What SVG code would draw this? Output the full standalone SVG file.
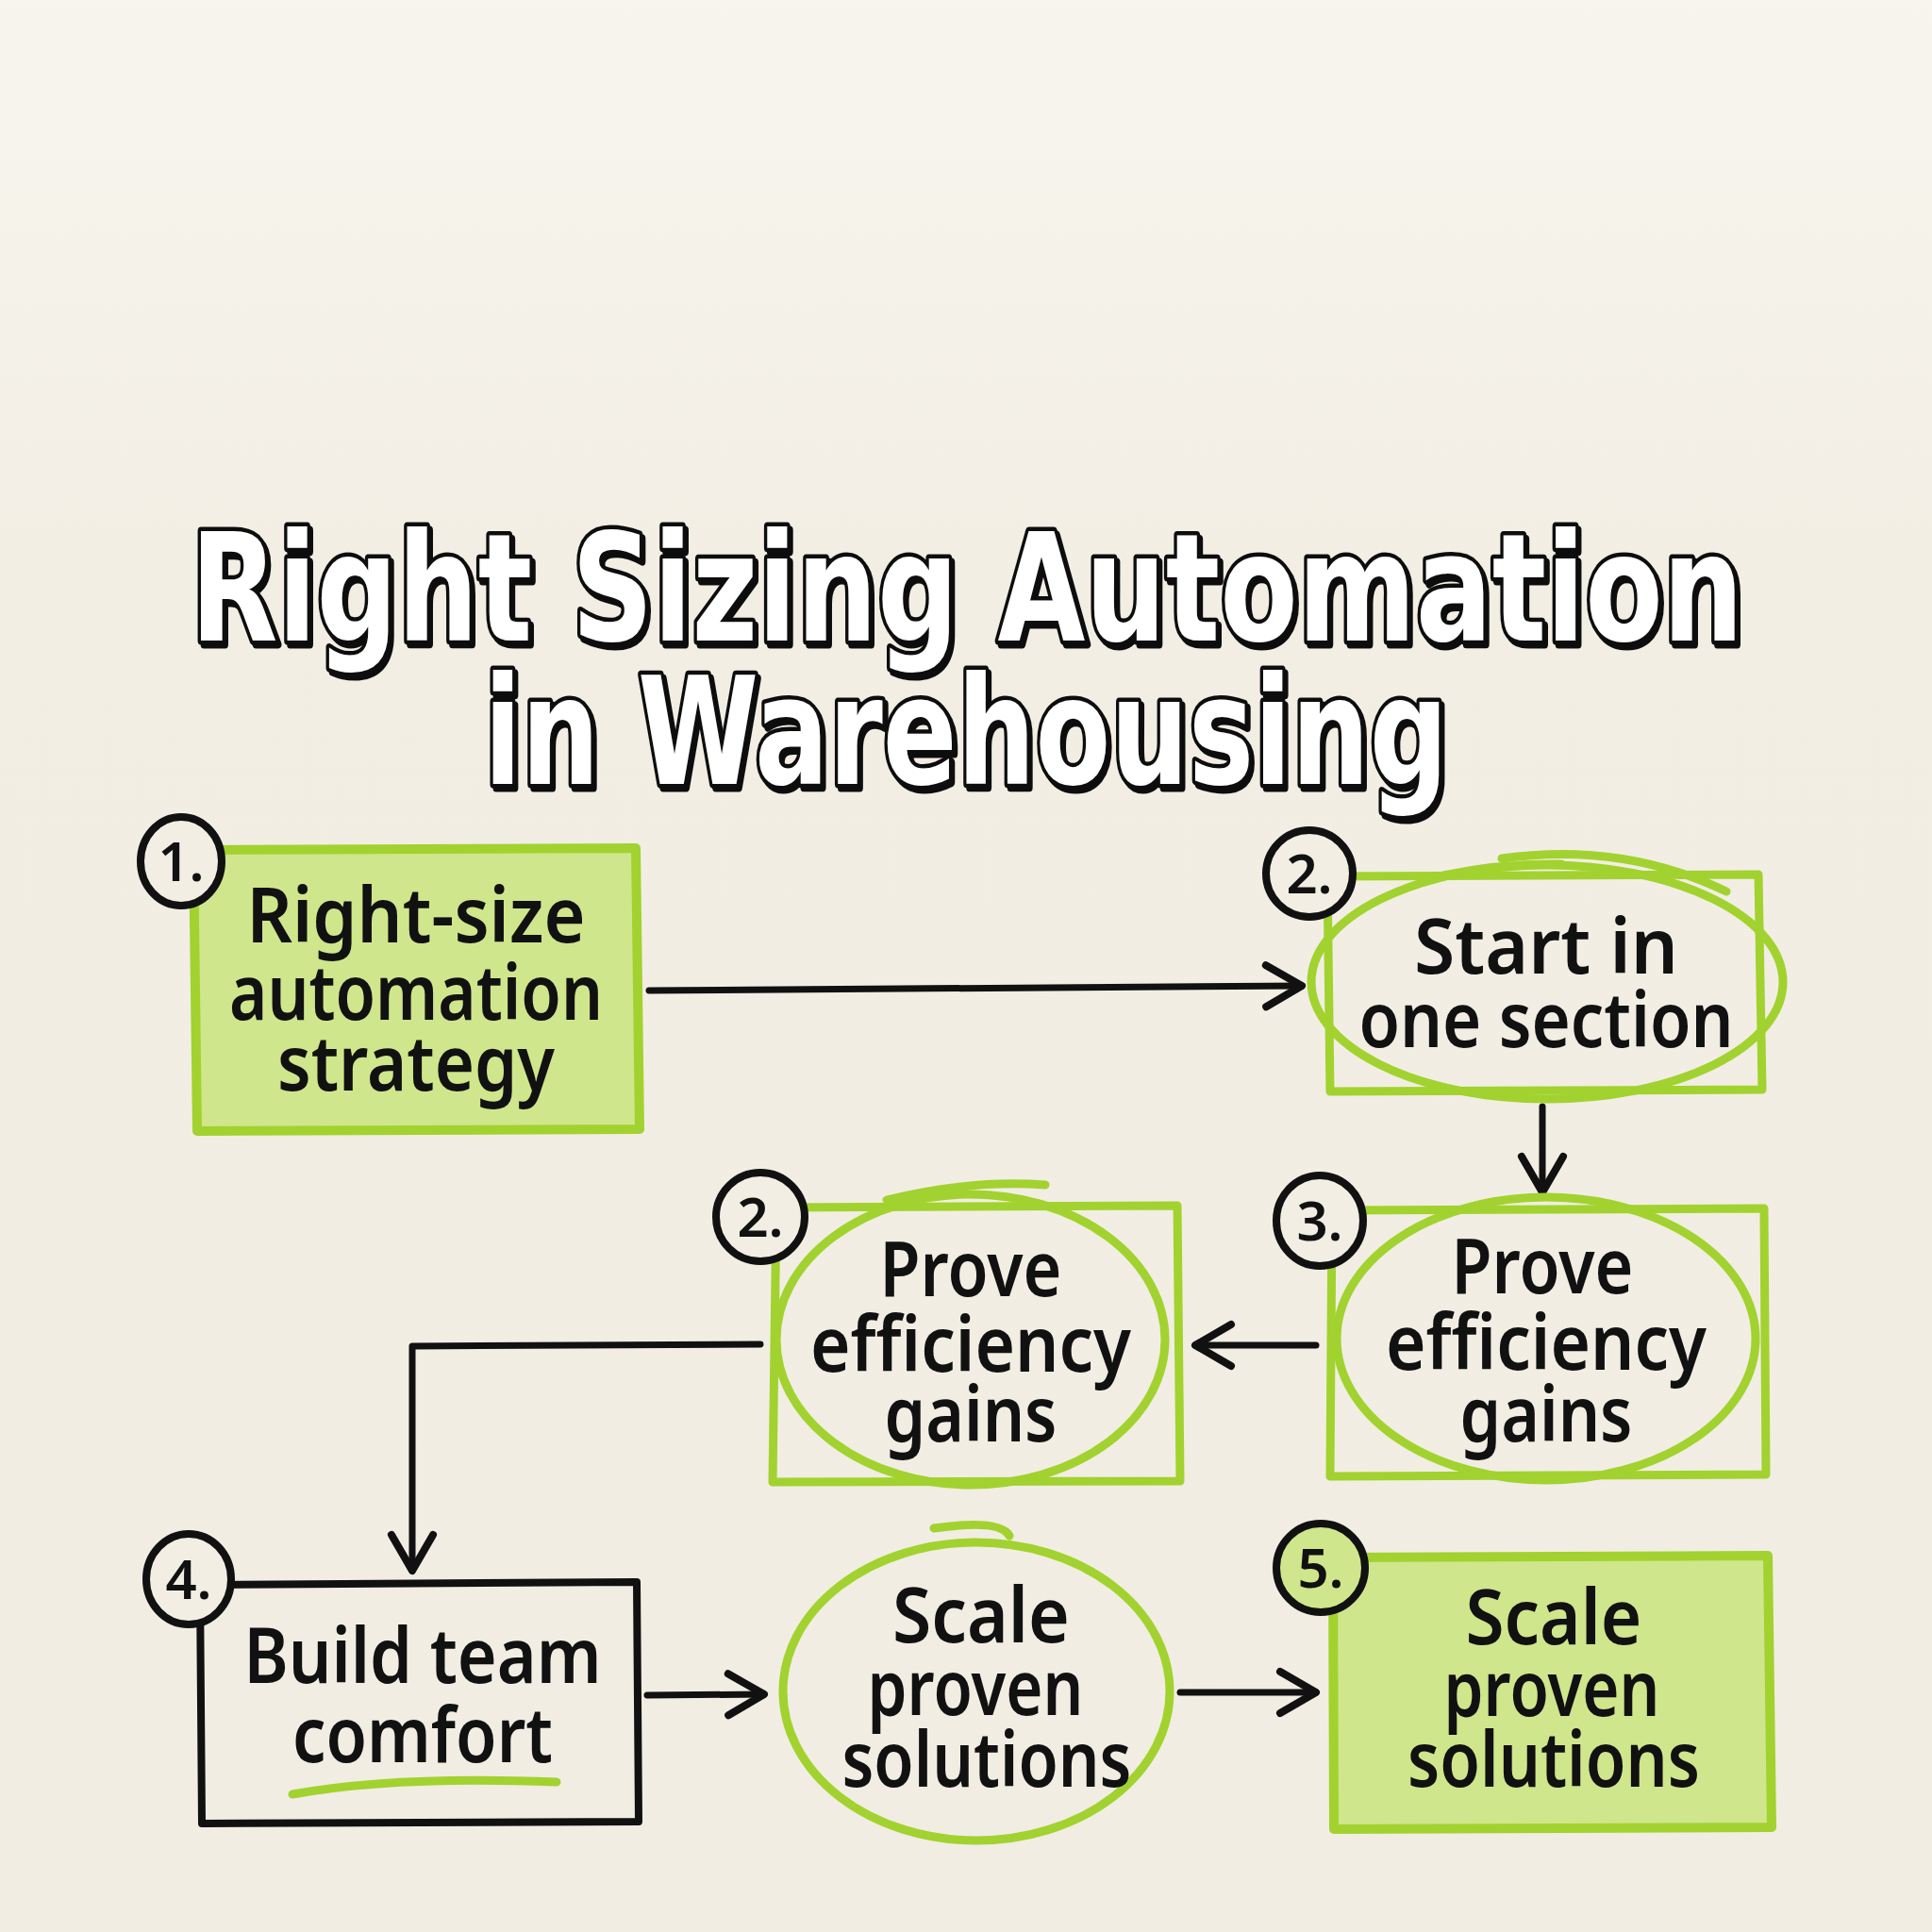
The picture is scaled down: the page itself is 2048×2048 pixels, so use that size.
<svg xmlns="http://www.w3.org/2000/svg" width="2048" height="2048" viewBox="0 0 2048 2048">
<defs>
<linearGradient id="bg" x1="0" y1="0" x2="0" y2="1">
<stop offset="0" stop-color="#F7F5EE"/>
<stop offset="0.3" stop-color="#F2EEE4"/>
<stop offset="1" stop-color="#F1EDE2"/>
</linearGradient>
<filter id="shadow" filterUnits="userSpaceOnUse" x="0" y="400" width="2048" height="560">
<feOffset in="SourceAlpha" dx="3" dy="4" result="off"/>
<feFlood flood-color="#111"/>
<feComposite in2="off" operator="in" result="sh"/>
<feMerge><feMergeNode in="sh"/><feMergeNode in="SourceGraphic"/></feMerge>
</filter>
<marker id="chev" viewBox="0 0 50 60" refX="44" refY="30" markerWidth="50" markerHeight="60" markerUnits="userSpaceOnUse" orient="auto">
<path d="M6,8 L44,30 L6,52" fill="none" stroke="#111" stroke-width="8" stroke-linecap="round" stroke-linejoin="round"/>
</marker>
<style>
.title{font-family:"DejaVu Sans","Liberation Sans",sans-serif;font-weight:bold;font-size:158px;fill:#fff;stroke:#111;stroke-width:9;paint-order:stroke;stroke-linejoin:round;text-anchor:middle}
.lbl{font-family:"Noto Sans","Liberation Sans",sans-serif;font-weight:600;font-size:82px;fill:#111;text-anchor:middle}
.num{font-family:"Noto Sans","Liberation Sans",sans-serif;font-weight:600;font-size:58px;fill:#111;text-anchor:middle}
.badge{fill:#F2EEE4;stroke:#111;stroke-width:8}
.gfill{fill:#CFE68C;stroke:#A2D22F;stroke-width:10;stroke-linejoin:round}
.gline{fill:none;stroke:#A2D22F;stroke-width:9;stroke-linecap:round;stroke-linejoin:round}
.bline{fill:none;stroke:#111;stroke-width:8;stroke-linecap:round;stroke-linejoin:round}
.conn{fill:none;stroke:#111;stroke-width:7;stroke-linecap:round;stroke-linejoin:round;marker-end:url(#chev)}
</style>
</defs>
<rect width="2048" height="2048" fill="url(#bg)"/>

<g id="title" filter="url(#shadow)">
<text class="title" x="1025" y="679" textLength="1646" lengthAdjust="spacingAndGlyphs">Right Sizing Automation</text>
<text class="title" x="1024" y="831" textLength="1022" lengthAdjust="spacingAndGlyphs">in Warehousing</text>
</g>

<g id="connectors">
<path class="conn" d="M688,1050 L1380,1045"/>
<path class="conn" d="M1635,1173 L1635,1264"/>
<path class="conn" d="M1395,1426 L1267,1426"/>
<path class="conn" d="M806,1425 L437,1427 L437,1665"/>
<path class="conn" d="M686,1797 L810,1796"/>
<path class="conn" d="M1251,1794 L1395,1794"/>
</g>

<g id="node1">
<path class="gfill" d="M205,901 L674,899 L678,1197 L209,1199 Z"/>
<text class="lbl" x="441" y="999" textLength="359" lengthAdjust="spacingAndGlyphs">Right-size</text>
<text class="lbl" x="441" y="1081" textLength="396" lengthAdjust="spacingAndGlyphs">automation</text>
<text class="lbl" x="441" y="1156" textLength="294" lengthAdjust="spacingAndGlyphs">strategy</text>
<ellipse class="badge" cx="192" cy="913" rx="43" ry="47"/>
<text class="num" x="192" y="934">1.</text>
</g>

<g id="node2">
<path class="gline" d="M1407,929 L1864,927 L1868,1155 L1410,1157 Z"/>
<ellipse class="gline" cx="1640" cy="1041" rx="250" ry="124"/>
<path class="gline" d="M1592,910 Q1720,892 1830,945"/>
<path class="gline" d="M1530,928 Q1590,915 1655,916"/>
<text class="lbl" x="1639" y="1032" textLength="280" lengthAdjust="spacingAndGlyphs">Start in</text>
<text class="lbl" x="1639" y="1110" textLength="397" lengthAdjust="spacingAndGlyphs">one section</text>
<ellipse class="badge" cx="1388" cy="926" rx="46" ry="46"/>
<text class="num" x="1388" y="947">2.</text>
</g>

<g id="node3">
<path class="gline" d="M1412,1283 L1870,1281 L1872,1563 L1410,1565 Z"/>
<ellipse class="gline" cx="1639" cy="1419" rx="222" ry="150"/>
<text class="lbl" x="1635" y="1371" textLength="193" lengthAdjust="spacingAndGlyphs">Prove</text>
<text class="lbl" x="1639" y="1452" textLength="340" lengthAdjust="spacingAndGlyphs">efficiency</text>
<text class="lbl" x="1639" y="1528" textLength="183" lengthAdjust="spacingAndGlyphs">gains</text>
<ellipse class="badge" cx="1399" cy="1294" rx="46" ry="48"/>
<text class="num" x="1399" y="1315">3.</text>
</g>

<g id="node2b">
<path class="gline" d="M823,1280 L1248,1278 L1251,1570 L819,1571 Z"/>
<ellipse class="gline" cx="1029" cy="1420" rx="206" ry="154"/>
<path class="gline" d="M940,1272 Q1030,1250 1108,1256"/>
<text class="lbl" x="1029" y="1374" textLength="193" lengthAdjust="spacingAndGlyphs">Prove</text>
<text class="lbl" x="1029" y="1454" textLength="340" lengthAdjust="spacingAndGlyphs">efficiency</text>
<text class="lbl" x="1029" y="1528" textLength="183" lengthAdjust="spacingAndGlyphs">gains</text>
<ellipse class="badge" cx="806" cy="1290" rx="47" ry="47"/>
<text class="num" x="806" y="1311">2.</text>
</g>

<g id="node4">
<path class="bline" d="M212,1680 L675,1677 L677,1931 L214,1933 Z"/>
<path class="gline" d="M310,1902 Q420,1882 590,1889" stroke-width="10"/>
<text class="lbl" x="448" y="1784" textLength="379" lengthAdjust="spacingAndGlyphs">Build team</text>
<text class="lbl" x="448" y="1868" textLength="276" lengthAdjust="spacingAndGlyphs">comfort</text>
<ellipse class="badge" cx="200" cy="1674" rx="45" ry="48"/>
<text class="num" x="200" y="1695">4.</text>
</g>

<g id="node5circle">
<ellipse class="gline" cx="1035" cy="1793" rx="205" ry="158"/>
<path class="gline" d="M990,1620 Q1060,1610 1070,1628"/>
<text class="lbl" x="1040" y="1741" textLength="188" lengthAdjust="spacingAndGlyphs">Scale</text>
<text class="lbl" x="1034" y="1818" textLength="229" lengthAdjust="spacingAndGlyphs">proven</text>
<text class="lbl" x="1046" y="1894" textLength="307" lengthAdjust="spacingAndGlyphs">solutions</text>
</g>

<g id="node5">
<path class="gfill" d="M1413,1651 L1874,1649 L1878,1937 L1414,1939 Z"/>
<text class="lbl" x="1647" y="1743" textLength="187" lengthAdjust="spacingAndGlyphs">Scale</text>
<text class="lbl" x="1645" y="1819" textLength="229" lengthAdjust="spacingAndGlyphs">proven</text>
<text class="lbl" x="1647" y="1894" textLength="310" lengthAdjust="spacingAndGlyphs">solutions</text>
<ellipse cx="1400" cy="1662" rx="47" ry="47" fill="#CFE68C" stroke="#111" stroke-width="8"/>
<text class="num" x="1400" y="1683">5.</text>
</g>
</svg>
